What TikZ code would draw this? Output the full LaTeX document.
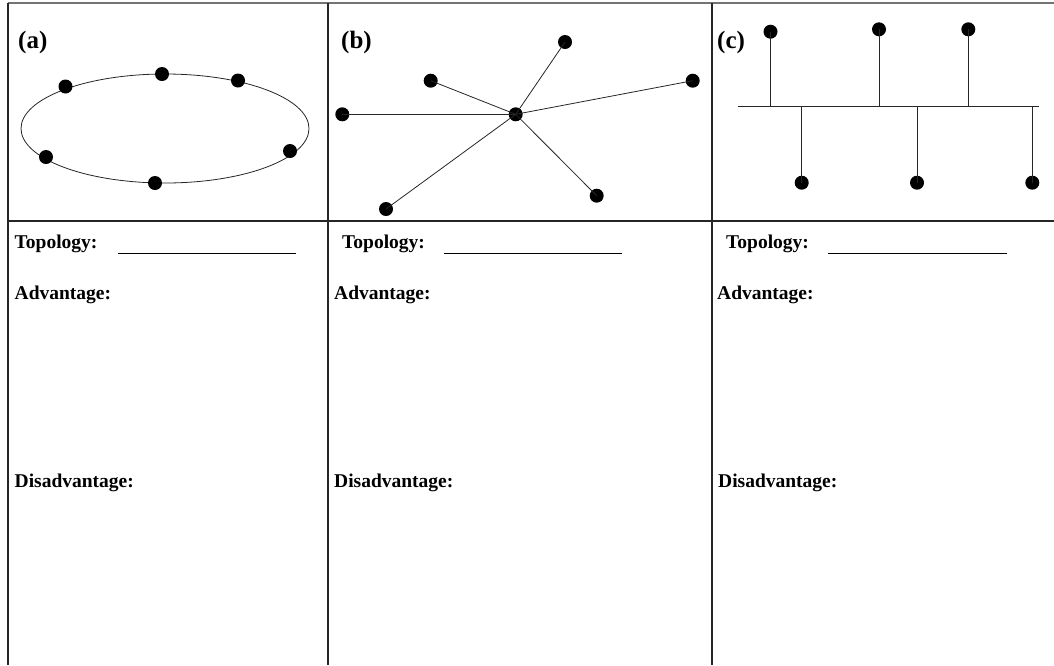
\documentclass[tikz,border=0pt]{standalone}
\usepackage{fontspec}
\setmainfont{Liberation Serif}
\begin{document}
\begin{tikzpicture}[x=1pt,y=-1pt,
  dot/.style={circle,fill=black,inner sep=0pt,minimum size=14pt},
  frame/.style={line width=1.2pt,draw=black!85},
  wire/.style={line width=0.8pt,draw=black!85},
  lbl/.style={anchor=base west,inner sep=0pt,font=\bfseries\fontsize{25}{29}\selectfont},
  txt/.style={anchor=base west,inner sep=0pt,font=\bfseries\fontsize{19.5}{23}\selectfont},
  blank/.style={line width=1pt,draw=black}]
\useasboundingbox (0,0) rectangle (1054,665);
% frame
\draw[line width=1.2pt,draw=black!55] (8,3) -- (1054,3);
\draw[frame] (8,221) -- (1054,221);
\draw[frame] (8,3) -- (8,665);
\draw[frame] (328,3) -- (328,665);
\draw[frame] (712,3) -- (712,665);
% labels
\node[lbl] (la) at (18,48) {(a)};
\node[lbl] (lb) at (341,48) {(b)};
\node[lbl] (lc) at (717,48) {(c)};
% (a) ring
\draw[wire] (165,128.5) ellipse [x radius=144, y radius=54.5];
\node[dot] (a1) at (65.5,86.5) {};
\node[dot] (a2) at (162,74) {};
\node[dot] (a3) at (238,80.5) {};
\node[dot] (a4) at (290,151) {};
\node[dot] (a5) at (155,183) {};
\node[dot] (a6) at (46,157) {};
% (b) star
\node[dot] (hub) at (515.7,114.3) {};
\node[dot] (b1) at (565,42) {};
\node[dot] (b2) at (692.7,80.7) {};
\node[dot] (b3) at (430.7,80.7) {};
\node[dot] (b4) at (342.3,114.3) {};
\node[dot] (b5) at (386,209) {};
\node[dot] (b6) at (596.7,195.7) {};
\foreach \n in {b1,b2,b3,b4,b5,b6} \draw[wire] (hub.center) -- (\n.center);
% (c) bus
\coordinate (busL) at (737.7,106);
\coordinate (busR) at (1039,106);
\draw[wire] (busL) -- (busR);
\node[dot] (c1) at (770.5,31.7) {};
\node[dot] (c2) at (879,29.3) {};
\node[dot] (c3) at (968.3,29.3) {};
\node[dot] (c4) at (801.7,182.7) {};
\node[dot] (c5) at (917,182.7) {};
\node[dot] (c6) at (1032.3,182.7) {};
\foreach \n in {c1,c2,c3,c4,c5,c6} \draw[wire] (\n.center) -- (\n.center |- busL);
% texts column a
\node[txt] (ta) at (14.5,248) {Topology:};
\draw[blank] (118,253) coordinate (ua1) -- (296,253) coordinate (ua2);
\node[txt] (aa) at (14.5,299) {Advantage:};
\node[txt] (da) at (14.5,487) {Disadvantage:};
% column b
\node[txt] (tb) at (342,248) {Topology:};
\draw[blank] (444,253) coordinate (ub1) -- (622,253) coordinate (ub2);
\node[txt] (ab) at (334,299) {Advantage:};
\node[txt] (db) at (334,487) {Disadvantage:};
% column c
\node[txt] (tc) at (726,248) {Topology:};
\draw[blank] (828,253) coordinate (uc1) -- (1006.5,253) coordinate (uc2);
\node[txt] (ac) at (717,299) {Advantage:};
\node[txt] (dc) at (718,487) {Disadvantage:};
\end{tikzpicture}
\end{document}
